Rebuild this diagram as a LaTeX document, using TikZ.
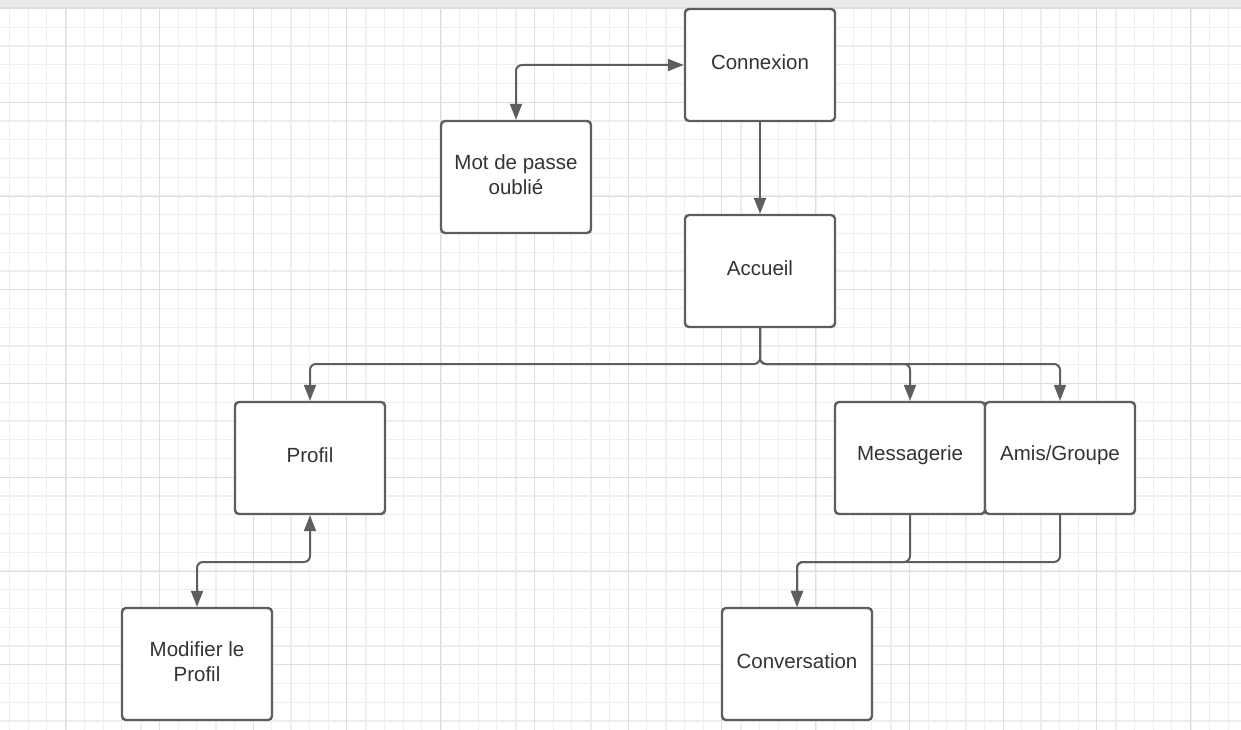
\documentclass[tikz,border=0pt]{standalone}
\usepackage{fontspec}
\setmainfont{Liberation Sans}
\usetikzlibrary{arrows.meta}
\definecolor{gminor}{HTML}{EEEEEE}
\definecolor{gmid}{HTML}{DEDEDE}
\definecolor{lineC}{HTML}{5E5E5E}
\definecolor{textC}{HTML}{333333}
\definecolor{barC}{HTML}{E8E9EB}
\tikzset{
  minorline/.style={draw=gminor, line width=1pt},
  thickline/.style={draw=gminor, line width=2pt},
  darkline/.style={draw=gmid, line width=1pt},
  box/.style={draw=lineC, fill=white, line width=2.4pt, rounded corners=4pt,
    minimum width=150pt, minimum height=112pt, inner sep=0pt},
  boxtext/.style={align=center, text=textC, inner sep=0pt, yshift=2.5pt,
    font=\fontsize{20.5}{24.5}\selectfont},
  conn/.style={draw=lineC, line width=2pt, rounded corners=6pt,
    arrows={-Triangle[length=16pt,width=12pt]}},
  conn2/.style={draw=lineC, line width=2pt, rounded corners=6pt,
    arrows={Triangle[length=16pt,width=12pt]-Triangle[length=16pt,width=12pt]}}
}
\begin{document}
\begin{tikzpicture}[x=1pt,y=-1pt]
\useasboundingbox (0,0) rectangle (1241,730);
\fill[white] (0,0) rectangle (1241,730);
% grid
\foreach \i in {-3,...,63} { \draw[minorline] ({65.7+18.75*\i},0) -- ({65.7+18.75*\i},730); }
\foreach \i in {0,...,39} { \draw[minorline] (0,{8.5+18.75*\i}) -- (1241,{8.5+18.75*\i}); }
\foreach \i in {-1,...,16} { \draw[thickline] ({65.7+75*\i},0) -- ({65.7+75*\i},730); }
\foreach \i in {0,...,9} { \draw[thickline] (0,{46+75*\i}) -- (1241,{46+75*\i}); }
\foreach \i in {0,...,12} { \draw[darkline] ({65.7+93.75*\i},0) -- ({65.7+93.75*\i},730); }
\foreach \i in {0,...,7} { \draw[darkline] (0,{8.5+93.75*\i}) -- (1241,{8.5+93.75*\i}); }
% top bar
\fill[barC] (0,0) rectangle (1241,8);
\draw[gmid, line width=1pt] (0,8) -- (1241,8);
% nodes
\node[box, label={[boxtext]center:Connexion}] (con) at (760,65) {};
\node[box, label={[boxtext]center:Mot de passe\\oublié}] (mdp) at (516,177) {};
\node[box, label={[boxtext]center:Accueil}] (acc) at (760,271) {};
\node[box, label={[boxtext]center:Profil}] (pro) at (310,458) {};
\node[box, label={[boxtext]center:Messagerie}] (mes) at (910,458) {};
\node[box, label={[boxtext]center:Amis/Groupe}] (ami) at (1060,458) {};
\node[box, label={[boxtext]center:Modifier le\\Profil}] (mod) at (197,664) {};
\node[box, label={[boxtext]center:Conversation}] (cnv) at (797,664) {};
% junction coordinates
\coordinate (j1) at (760,364);
\coordinate (j2) at (310,562);
\coordinate (j3) at (910,562);
\coordinate (j4) at (1060,562);
% connectors
\draw[conn2] (mdp.north) |- (con.west);
\draw[conn] (con.south) -- (acc.north);
\draw[conn] (acc.south) -- (j1) -| (pro.north);
\draw[conn] (acc.south) -- (j1) -| (mes.north);
\draw[conn] (acc.south) -- (j1) -| (ami.north);
\draw[conn2] (pro.south) -- (j2) -| (mod.north);
\draw[conn] (mes.south) -- (j3) -| (cnv.north);
\draw[conn] (ami.south) -- (j4) -| (cnv.north);
\end{tikzpicture}
\end{document}
